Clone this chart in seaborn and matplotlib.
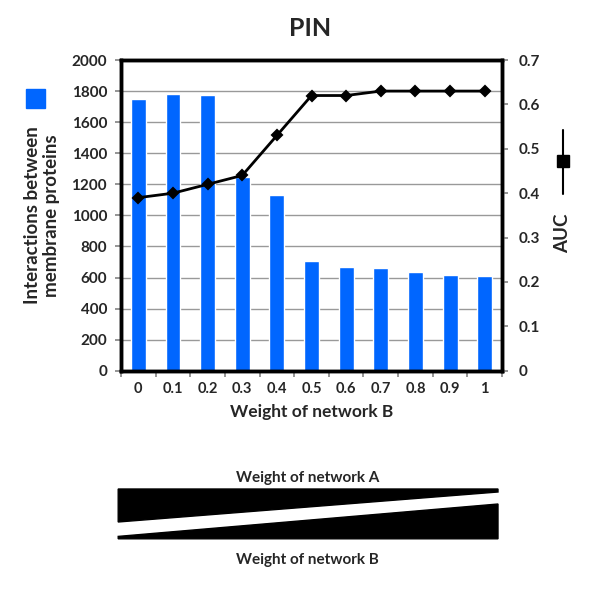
import numpy as np
import pandas as pd
import matplotlib.pyplot as plt
import seaborn as sns
from matplotlib.patches import Polygon, Rectangle
from matplotlib.lines import Line2D

weights = ['0', '0.1', '0.2', '0.3', '0.4', '0.5', '0.6', '0.7', '0.8', '0.9', '1']
interactions = [1750, 1780, 1775, 1250, 1130, 705, 670, 660, 635, 615, 610]
auc = [0.39, 0.40, 0.42, 0.44, 0.53, 0.62, 0.62, 0.63, 0.63, 0.63, 0.63]

sns.set_theme(style='white')
plt.rcParams['font.family'] = ['Lato', 'DejaVu Sans']
plt.rcParams['font.weight'] = 'bold'

df = pd.DataFrame({'weight': weights, 'interactions': interactions, 'auc': auc})

fig = plt.figure(figsize=(6, 6), dpi=100)
ax = fig.add_axes([0.2017, 0.382, 0.635, 0.518])

sns.barplot(data=df, x='weight', y='interactions', color='#0066ff', saturation=1,
            width=0.43, ax=ax, zorder=2)
ax.set_ylim(0, 2000)
ax.set_yticks(np.arange(0, 2001, 200))
ax.yaxis.grid(True, color='#999999', lw=1, zorder=0)
ax.set_axisbelow(True)
ax.set_xlim(-0.5, len(weights) - 0.5)

# tick marks at category edges, labels at centres
ax.set_xticks(np.arange(-0.5, len(weights), 1))
ax.set_xticklabels([])
ax.set_xticks(np.arange(len(weights)), minor=True)
ax.set_xticklabels(weights, minor=True, fontsize=10.5, fontweight='bold')
ax.tick_params(axis='x', which='major', length=4, color='#888888', direction='out', bottom=True)
ax.tick_params(axis='x', which='minor', length=0, pad=8)
ax.tick_params(axis='y', length=4, color='#888888', direction='out', left=True,
               labelsize=11, pad=6)
for lab in ax.get_yticklabels():
    lab.set_fontweight('bold')

ax.set_xlabel('Weight of network B', fontsize=12.5, fontweight='bold', labelpad=6)
ax.set_ylabel('Interactions between\nmembrane proteins', fontsize=13.5, fontweight='bold',
              labelpad=8)
for s in ax.spines.values():
    s.set_color('black')
    s.set_linewidth(2.5)

ax2 = ax.twinx()
sns.pointplot(data=df, x='weight', y='auc', color='black', markers='D',
              markersize=5, linewidth=2, ax=ax2)
ax2.set_xlim(-0.5, len(weights) - 0.5)
ax2.set_ylim(0, 0.7)
ax2.set_yticks(np.arange(0, 0.71, 0.1))
ax2.set_yticklabels(['0', '0.1', '0.2', '0.3', '0.4', '0.5', '0.6', '0.7'],
                    fontsize=11, fontweight='bold')
ax2.tick_params(axis='y', length=4, color='#888888', direction='out', right=True, pad=8)
ax2.set_ylabel('')
ax2.grid(False)
for s in ax2.spines.values():
    s.set_color('black')
    s.set_linewidth(2.5)

fig.text(0.517, 0.953, 'PIN', ha='center', va='center', fontsize=18, fontweight='bold')

# legend markers
fig.add_artist(Rectangle((0.043, 0.820), 0.032, 0.032, color='#0066ff',
                         transform=fig.transFigure))
fig.add_artist(Line2D([0.938, 0.938], [0.677, 0.783], color='black', lw=1.5,
                      transform=fig.transFigure))
fig.add_artist(Rectangle((0.928, 0.722), 0.02, 0.02, color='black',
                         transform=fig.transFigure))
fig.text(0.938, 0.612, 'AUC', rotation=90, ha='center', va='center',
         fontsize=13.5, fontweight='bold')

# weight wedges
fig.add_artist(Polygon([(0.197, 0.185), (0.83, 0.185), (0.83, 0.180), (0.197, 0.130)],
                       closed=True, color='black', transform=fig.transFigure))
fig.add_artist(Polygon([(0.197, 0.102), (0.83, 0.102), (0.83, 0.160), (0.197, 0.106)],
                       closed=True, color='black', transform=fig.transFigure))
fig.text(0.513, 0.203, 'Weight of network A', ha='center', va='center',
         fontsize=11, fontweight='bold')
fig.text(0.513, 0.067, 'Weight of network B', ha='center', va='center',
         fontsize=11, fontweight='bold')

fig.savefig('out.png', dpi=100, facecolor='white')
